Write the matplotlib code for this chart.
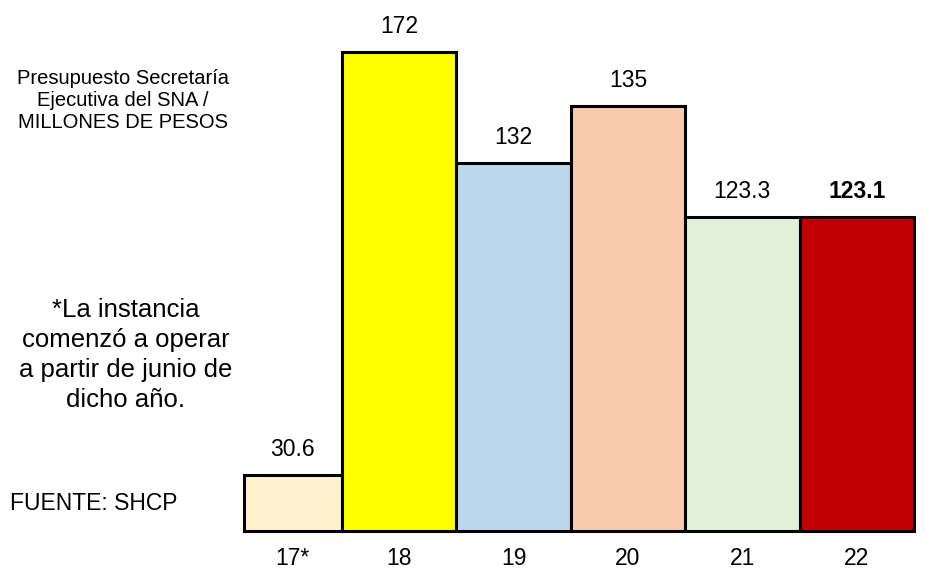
import matplotlib
matplotlib.use("Agg")
import matplotlib.pyplot as plt
import numpy as np

# data
years = ["17*", "18", "19", "20", "21", "22"]
values = [30.6, 172, 132, 135, 123.3, 123.1]          # printed amounts (MDP)
# the source chart is not drawn to scale; heights as they appear in the picture
bar_heights = [20.1, 172, 132.2, 152.5, 112.8, 112.8]
colors = ["#FFF2CC", "#FFFF00", "#BDD7EE", "#F8CBAD", "#E2EFDA", "#C00000"]

plt.rcParams["font.family"] = ["Liberation Sans", "DejaVu Sans"]

W, H = 926, 569
fig = plt.figure(figsize=(W / 100, H / 100), dpi=100)
ax = fig.add_axes([243.5 / W, 38 / H, (914 - 243.5) / W, 531 / H])

widths = np.array([0.86, 1, 1, 1, 1, 1])
lefts = np.concatenate([[0], np.cumsum(widths)[:-1]])
bars = ax.bar(lefts, bar_heights, width=widths, align="edge", color=colors,
              edgecolor="black", linewidth=2.2)
for b in bars:
    b.set_clip_on(False)

ax.set_xlim(0, widths.sum())
ax.set_ylim(0, 531 * 172 / 479.3)

for i, (x, w, h, v) in enumerate(zip(lefts, widths, bar_heights, values)):
    ax.annotate(f"{v:g}", (x + w / 2, h), xytext=(0, 13.5), textcoords="offset points",
                ha="center", va="baseline", fontsize=16.5,
                fontweight="bold" if i == len(values) - 1 else "normal")

ax.set_xticks(lefts + widths / 2)
ax.set_xticklabels(years, fontsize=16.5)
ax.tick_params(axis="x", length=0, pad=11.5)
ax.set_yticks([])
for s in ax.spines.values():
    s.set_visible(False)

fig.text(123 / W, 1 - 100 / H, "Presupuesto Secretaría\nEjecutiva del SNA /\nMILLONES DE PESOS",
         ha="center", va="center", fontsize=14.5, linespacing=1.2)
fig.text(126 / W, 1 - 355 / H, "*La instancia\ncomenzó a operar\na partir de junio de\ndicho año.",
         ha="center", va="center", fontsize=18.5, linespacing=1.3)
fig.text(10 / W, 1 - 503.5 / H, "FUENTE: SHCP", ha="left", va="center", fontsize=16.5)

fig.savefig("out.png", dpi=100)
